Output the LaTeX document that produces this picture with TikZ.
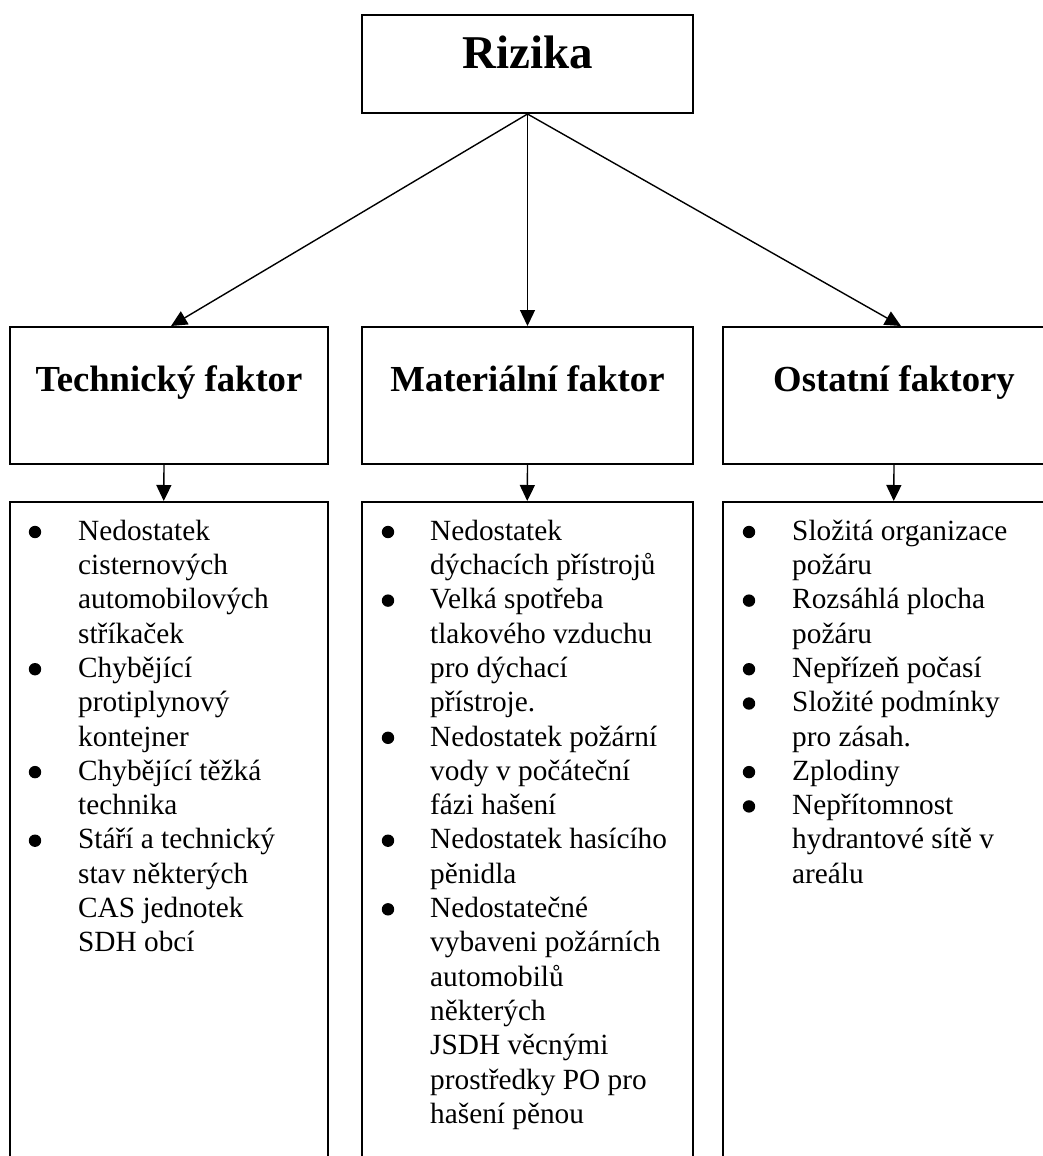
\documentclass[tikz,border=0pt]{standalone}
\usepackage{fontspec}
\setmainfont{Liberation Serif}
\usetikzlibrary{arrows.meta}
\begin{document}
\begin{tikzpicture}[x=1pt,y=-1pt,
  topbox/.style={draw, line width=2pt, inner sep=0pt, anchor=north west,
    minimum width=331pt, text height=54pt, text depth=44pt,
    font=\fontsize{47}{56}\bfseries\selectfont},
  hdrbox/.style={draw, line width=2pt, inner sep=0pt, anchor=north west,
    text height=64pt, text depth=73pt,
    font=\fontsize{36.7}{44}\bfseries\selectfont},
  listbox/.style={draw, line width=1.5pt, inner sep=0pt, anchor=north west,
    minimum height=720pt},
  listtext/.style={inner sep=0pt, anchor=north west, align=left,
    font=\fontsize{29.3}{34.3}\selectfont},
  arr/.style={line width=1.4pt, -{Triangle[length=16pt,width=15pt]}},
  bulletdot/.style={fill=black}
]
\useasboundingbox[fill=white] (0,0) rectangle (1043,1156);

\node[topbox] (riz) at (361,14) {Rizika};

\node[hdrbox, minimum width=318pt] (hL) at (9,326) {Technický faktor};
\node[hdrbox, minimum width=331pt] (hM) at (361,326) {Materiální faktor};
\node[hdrbox, minimum width=342pt] (hR) at (722,326) {Ostatní faktory};

\node[listbox, minimum width=318pt] (bL) at (9,501) {};
\node[listbox, minimum width=331pt] (bM) at (361,501) {};
\node[listbox, minimum width=342pt] (bR) at (722,501) {};

\draw[arr] (riz.south) -- ([xshift=2pt]hL.north);
\draw[arr] (riz.south) -- (hM.north);
\draw[arr] (riz.south) -- ([xshift=7pt]hR.north);

\draw[arr] ([xshift=-5pt]hL.south) -- ([xshift=-5pt]bL.north);
\draw[arr] (hM.south) -- (bM.north);
\draw[arr] (hR.south) -- (bR.north);

\node[listtext] (tL) at (78,516) {\strut Nedostatek\\
cisternových\\
automobilových\\
stříkaček\\
Chybějící\\
protiplynový\\
kontejner\\
Chybějící těžká\\
technika\\
Stáří a technický\\
stav některých\\
CAS jednotek\\
SDH obcí};

\node[listtext] (tM) at (430,516) {\strut Nedostatek\\
dýchacích přístrojů\\
Velká spotřeba\\
tlakového vzduchu\\
pro dýchací\\
přístroje.\\
Nedostatek požární\\
vody v počáteční\\
fázi hašení\\
Nedostatek hasícího\\
pěnidla\\
Nedostatečné\\
vybaveni požárních\\
automobilů\\
některých\\
JSDH věcnými\\
prostředky PO pro\\
hašení pěnou};

\node[listtext] (tR) at (792,516) {\strut Složitá organizace\\
požáru\\
Rozsáhlá plocha\\
požáru\\
Nepřízeň počasí\\
Složité podmínky\\
pro zásah.\\
Zplodiny\\
Nepřítomnost\\
hydrantové sítě v\\
areálu};

\foreach \i in {0,4,7,9}
  \fill[bulletdot] (35,532+34.3*\i) circle (6.2);
\foreach \i in {0,2,6,9,11}
  \fill[bulletdot] (388,532+34.3*\i) circle (6.2);
\foreach \i in {0,2,4,5,7,8}
  \fill[bulletdot] (749,532+34.3*\i) circle (6.2);
\end{tikzpicture}
\end{document}
